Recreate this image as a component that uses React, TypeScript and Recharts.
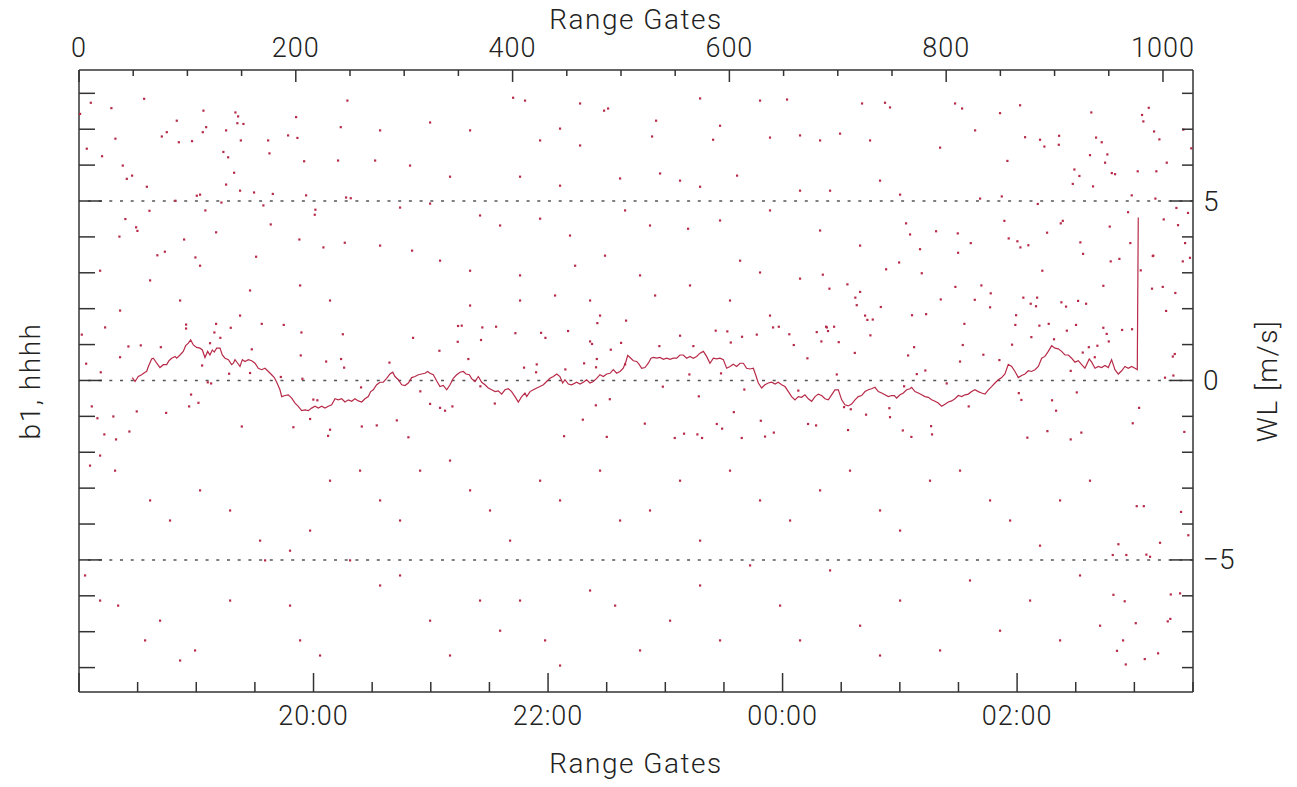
import { ComposedChart, Line, Scatter, XAxis, YAxis, ReferenceLine } from "recharts";

// top axis: range gates, bottom axis: UT hours (24+ = next day)
const gateTicks = Array.from({ length: 21 }, (_, i) => i * 50);
const gateLabels = [0, 200, 400, 600, 800, 1000];
const timeTicks = Array.from({ length: 20 }, (_, i) => 18 + i * 0.5);
const timeLabelHours = [20, 22, 24, 26];
const timeLabelText = ["20:00", "22:00", "00:00", "02:00"];
const wlTicks = Array.from({ length: 17 }, (_, i) => i - 8);
const wlLabels = [-5, 0, 5];
const wlLabelText = ["\u22125", "0", "5"];
const refLevels = [-5, 0, 5];

// [range gate, WL m/s]
const wlTrace: [number, number][] = [
  [49.2, 0.08], [51.7, -0.03], [54.7, 0.11], [57.8, 0.16], [60.9, 0.23], [62.4, 0.25], [64.0, 0.39], [67.0, 0.6],
  [68.6, 0.62], [71.7, 0.48], [74.7, 0.36], [77.8, 0.44], [80.9, 0.44], [83.0, 0.55], [85.5, 0.62], [88.6, 0.67],
  [90.1, 0.62], [93.2, 0.71], [96.2, 0.81], [98.4, 0.97], [100.9, 1.04], [103.0, 1.13], [105.5, 0.99], [108.5, 0.92],
  [111.6, 0.9], [113.8, 0.85], [116.2, 0.64], [118.7, 0.81], [120.8, 0.71], [123.0, 0.85], [124.8, 0.79], [127.0, 0.9],
  [130.1, 0.9], [132.2, 0.71], [134.7, 0.62], [137.8, 0.58], [140.8, 0.44], [142.4, 0.48], [143.9, 0.58], [146.4, 0.48],
  [148.5, 0.39], [150.7, 0.58], [153.1, 0.53], [156.2, 0.58], [159.3, 0.55], [162.4, 0.48], [165.4, 0.34], [168.5, 0.3],
  [171.6, 0.34], [174.7, 0.25], [177.7, 0.16], [180.2, 0.08], [182.4, -0.05], [185.4, -0.26], [187.0, -0.45], [190.0, -0.42],
  [193.1, -0.4], [196.2, -0.49], [199.3, -0.63], [202.3, -0.72], [205.4, -0.84], [208.5, -0.82], [211.6, -0.84], [214.6, -0.77],
  [217.7, -0.72], [220.8, -0.77], [223.9, -0.72], [226.9, -0.77], [230.0, -0.72], [233.1, -0.68], [236.2, -0.51], [239.2, -0.54],
  [242.3, -0.51], [245.4, -0.6], [248.5, -0.54], [251.5, -0.58], [254.6, -0.51], [257.7, -0.57], [260.8, -0.6], [263.8, -0.51],
  [266.9, -0.45], [269.1, -0.31], [271.5, -0.26], [274.6, -0.12], [277.7, -0.05], [280.7, -0.05],
  [283.8, 0.06], [286.9, 0.18], [289.4, 0.23], [291.5, 0.11], [294.6, 0.02], [297.7, -0.12], [300.7, -0.14], [303.8, -0.07],
  [306.9, 0.08], [310.0, 0.11], [313.0, 0.16], [316.1, 0.18], [319.2, 0.2], [321.6, 0.25], [323.8, 0.2], [326.9, 0.16],
  [329.9, -0.01], [333.0, -0.17], [336.1, -0.14], [339.2, -0.26], [342.3, -0.12], [345.3, 0.06], [348.4, 0.16], [351.5, 0.23],
  [354.6, 0.25], [357.0, 0.18], [360.1, 0.16], [362.2, 0.05], [365.3, -0.03], [368.4, 0.11], [371.5, -0.05], [374.5, -0.12],
  [377.6, -0.21], [380.7, -0.26], [383.8, -0.31], [386.8, -0.29], [389.9, -0.38], [393.0, -0.26], [396.1, -0.23], [399.1, -0.31],
  [402.2, -0.45], [405.3, -0.6], [408.4, -0.45], [411.4, -0.35], [413.0, -0.45], [416.1, -0.31], [419.2, -0.26], [422.3, -0.21],
  [425.3, -0.17], [428.4, -0.12], [431.4, -0.03], [434.5, 0.06], [437.6, 0.11], [440.7, 0.18], [443.7, 0.11], [446.2, -0.07],
  [448.3, 0.02], [451.4, -0.1], [454.5, -0.12], [459.1, -0.05], [462.2, -0.1], [465.3, -0.05], [468.3, 0.02], [471.4, -0.07],
  [474.5, -0.03], [477.6, 0.06], [480.6, 0.16], [483.7, 0.11], [486.8, 0.18], [489.9, 0.2], [492.9, 0.3], [496.0, 0.2],
  [499.1, 0.25], [502.1, 0.34], [504.6, 0.53], [506.2, 0.7], [508.3, 0.64], [511.4, 0.55], [514.5, 0.53], [516.9, 0.44],
  [519.1, 0.34], [522.1, 0.36], [525.2, 0.48], [527.7, 0.62], [529.8, 0.64], [532.9, 0.62], [536.0, 0.64], [539.1, 0.59],
  [542.1, 0.62], [545.2, 0.59], [548.3, 0.62], [551.4, 0.62], [554.4, 0.71], [557.5, 0.71], [560.6, 0.62], [563.7, 0.67],
  [566.7, 0.62], [569.8, 0.67], [572.9, 0.76], [576.0, 0.81], [579.0, 0.67], [582.1, 0.48], [585.2, 0.62], [588.3, 0.6],
  [591.3, 0.62], [594.4, 0.58], [597.5, 0.34], [600.6, 0.39], [603.6, 0.45], [606.7, 0.39], [609.8, 0.48], [612.9, 0.48],
  [615.9, 0.34], [619.0, 0.32], [622.1, 0.34], [624.2, 0.16], [626.7, -0.07], [629.8, -0.21], [632.8, -0.12], [635.9, -0.07],
  [639.0, -0.05], [642.1, -0.1], [645.1, -0.05], [648.2, -0.12], [651.3, -0.17], [654.4, -0.31], [657.4, -0.45], [660.5, -0.54],
  [663.6, -0.45], [666.7, -0.47], [669.7, -0.4], [672.8, -0.51], [675.9, -0.58], [679.0, -0.45], [682.0, -0.38], [685.1, -0.42],
  [688.2, -0.51], [691.3, -0.54], [694.3, -0.4], [697.4, -0.26], [700.5, -0.26], [703.6, -0.54], [706.6, -0.68], [709.7, -0.71],
  [712.8, -0.66], [715.9, -0.54], [718.9, -0.45], [722.0, -0.42], [725.1, -0.31], [728.2, -0.26], [731.2, -0.23], [734.3, -0.19],
  [737.4, -0.31], [740.5, -0.35], [743.5, -0.4], [746.6, -0.45], [749.7, -0.42], [752.2, -0.42],
  [754.3, -0.49], [757.4, -0.4], [760.5, -0.35], [763.5, -0.26], [766.6, -0.23], [768.1, -0.19], [771.2, -0.31], [774.3, -0.35],
  [777.4, -0.4], [780.4, -0.45], [783.5, -0.47], [786.6, -0.54], [789.7, -0.58], [792.7, -0.63], [795.8, -0.72], [798.9, -0.66],
  [802.0, -0.6], [805.0, -0.57], [808.1, -0.51], [811.2, -0.42], [814.3, -0.45], [817.3, -0.4], [820.4, -0.38], [823.5, -0.31],
  [826.6, -0.26], [829.6, -0.31], [832.7, -0.35], [835.8, -0.38], [838.9, -0.26], [841.9, -0.17], [845.0, -0.07], [848.1, 0.02],
  [851.2, 0.08], [854.2, 0.18], [857.3, 0.45], [860.4, 0.39], [863.5, 0.25], [866.5, 0.08], [869.6, 0.14], [872.7, 0.18],
  [875.8, 0.27], [878.8, 0.25], [881.9, 0.3], [885.0, 0.39], [888.1, 0.62], [891.1, 0.67], [894.2, 0.81], [897.3, 0.97],
  [900.4, 0.9], [903.4, 0.88], [906.5, 0.81], [909.6, 0.71], [912.7, 0.71], [915.7, 0.62], [918.8, 0.51], [921.9, 0.55],
  [925.0, 0.44], [928.0, 0.34], [932.0, 0.6], [934.2, 0.51], [937.3, 0.34], [940.3, 0.39], [943.4, 0.36], [946.5, 0.42],
  [949.6, 0.36], [952.6, 0.58], [955.7, 0.3], [958.8, 0.18], [961.9, 0.27], [964.9, 0.39], [968.0, 0.34], [971.1, 0.39],
  [974.2, 0.34], [976.3, 0.3], [977.2, 4.54],
];

// scattered single-gate values [range gate, WL m/s]
const wlScatter: [number, number][] = [
  // upper left
  [10.8, 7.74], [0.9, 7.43], [60, 7.85], [29.8, 7.59], [114.7, 7.52], [144.2, 7.47], [146.7, 7.36], [146, 7.17],
  [151.6, 7.15], [90.1, 7.24], [117.2, 7.06], [135.6, 6.97], [114.1, 6.92], [80.9, 6.92], [76.3, 6.8], [33.5, 6.74],
  [92, 6.64], [104.2, 6.67], [149.2, 6.69], [174.4, 6.69], [200.2, 7.34], [192.8, 6.83], [201.4, 6.76], [241.4, 7.06],
  [247.5, 7.8], [7.1, 6.46], [21.2, 6.25], [133.1, 6.37], [137.5, 6.22], [175.6, 6.33], [207.6, 6.11], [238.9, 6.13],
  [40.3, 5.99], [48.9, 5.71], [44, 5.62], [143, 5.79], [62.5, 5.4], [135.6, 5.46], [148.5, 5.29], [161.4, 5.24],
  [178.7, 5.2], [209.4, 5.16], [108.6, 5.15], [111.6, 5.18], [246.3, 5.1], [250.6, 5.08], [88.8, 5.01], [131.3, 4.96],
  [170, 4.88], [64.9, 4.73], [116.5, 4.74], [218, 4.76], [217.4, 4.62], [42.7, 4.5], [52.6, 4.27], [53.8, 4.17],
  [176.8, 4.35], [126.4, 4.13], [37.2, 4.01], [96.9, 3.93], [203.2, 3.93], [225.4, 3.71], [245.1, 3.84], [72.2, 3.49],
  [79.1, 3.59], [107.3, 3.43], [163.3, 3.45], [19.4, 3.06], [65.5, 2.79], [111.6, 3.2], [157.7, 2.51], [203.9, 2.65],
  [231.5, 2.23], [37.8, 1.95], [93.2, 2.23], [148.5, 1.81],
  // upper right
  [849.6, 7.45], [868.1, 7.67], [933.8, 7.47], [986.8, 7.6], [980.6, 7.4], [981.8, 7.22], [1018.7, 6.99], [991.7, 6.94],
  [996.6, 6.72], [872.7, 6.78], [886.5, 6.71], [890.5, 6.52], [904.1, 6.82], [903.8, 6.57], [938.2, 6.77], [943.4, 6.64],
  [856.4, 6.12], [932.6, 6.28], [948.6, 6.3], [946.5, 6.07], [1003.4, 6.07], [1026, 6.47], [918.2, 5.88], [922.8, 5.7],
  [916.7, 5.48], [935.4, 5.41], [952.7, 5.78], [955.7, 5.75], [976.6, 5.83], [993.8, 5.83], [971.1, 5.16], [992.9, 5.07],
  [851.2, 5.13], [884.4, 4.92], [967.7, 4.69], [1012.3, 4.81], [1023, 4.67], [853.6, 4.45], [907.5, 4.45], [905.6, 4.38],
  [1000.6, 4.49], [950.8, 4.29], [1013.8, 4.33], [893, 4.12], [857.6, 3.96], [865.6, 3.88], [868.4, 3.71], [875.7, 3.77],
  [923.7, 3.85], [926.2, 3.53], [969.8, 3.83], [1020.3, 3.83], [990.5, 3.47], [959.7, 3.39], [1024.8, 3.42],
  [762.9, 4.38], [766.6, 4.07], [790.6, 4.16], [810.6, 4.1], [822.6, 3.83], [775.8, 3.66], [810.9, 3.56], [756.5, 3.29],
  [744.5, 3.1], [777.4, 2.99], [686.1, 2.95], [708.8, 2.68], [692.2, 2.56], [720.5, 2.47], [716.1, 2.31], [717.4, 2.1],
  [739.6, 2.05], [794.9, 2.26], [808.4, 2.61], [832.4, 2.65], [841, 2.43], [826.3, 2.25], [840.4, 2.04], [768.4, 1.82],
  [781.4, 1.85], [725.1, 1.81], [727.2, 1.69], [732.2, 1.7], [689.8, 1.48], [696.5, 1.5], [690.9, 1.38], [730, 1.26],
  [684.8, 1.09], [816.7, 1.58], [715.6, 0.77], [770.3, 0.93], [764.8, 0.7], [815.2, 0.99], [834.2, 0.72], [812.7, 0.53],
  [780.7, 0.28], [772.8, 0.18], [699, 0.17], [800.4, -0.08], [761.1, -0.16],
  [951.7, 3.32], [888.6, 3.06], [871.1, 2.31], [877.9, 2.14], [883.8, 2.31], [882.8, 2.07], [906.2, 2.18], [910.5, 2.06],
  [921.6, 2.22], [929, 2.14], [864.4, 1.82], [863.7, 1.55], [885.9, 1.53], [894.5, 1.58], [919.7, 1.55], [944.9, 2.64],
  [944.9, 1.47], [948, 1.3], [949.9, 1.09], [962.2, 1.41], [971.4, 1.43], [911.2, 1.39], [878.5, 1.21], [899.4, 1.15],
  [860.7, 1.0], [931.5, 0.93], [939.4, 0.97], [925.9, 0.78], [937, 0.65], [849, 0.57], [914.8, 0.27], [991, 3.48],
  [999.7, 2.61], [989.8, 2.56], [1011.3, 2.44], [1002.8, 1.94], [1018.2, 3.32], [979.4, 3.07], [1010.8, 0.74], [1009, 0.67],
  [1001.8, 0.08], [1009.5, 0.14],
  // upper middle
  [400.4, 7.88], [411.4, 7.8], [462.2, 7.72], [488, 7.58], [572.9, 7.86], [628.2, 7.8], [653.1, 7.83], [722.3, 7.72],
  [743.5, 7.74], [748.1, 7.61], [808.1, 7.72], [814.6, 7.58], [323.8, 7.19], [360.7, 6.97], [443.7, 7.02], [484.3, 7.52],
  [532.3, 7.24], [591.3, 7.1], [702, 6.88], [277.7, 6.97], [425.3, 6.69], [462.2, 6.55], [528.6, 6.8], [584.9, 6.71],
  [637.4, 6.77], [665.1, 6.83], [683.6, 6.69], [729.7, 6.69], [794.3, 6.49], [826.6, 6.97], [273.1, 6.13], [305.3, 5.99],
  [342.2, 5.68], [406.8, 5.68], [443.7, 5.43], [499.1, 5.63], [536, 5.77], [554.4, 5.57], [572.9, 5.4], [607, 5.71],
  [665.1, 5.29], [692.8, 5.29], [738.9, 5.57], [757.4, 5.18], [831.2, 5.07], [296.1, 4.82], [323.8, 4.93], [369.9, 4.6],
  [388.4, 4.32], [425.3, 4.51], [452.9, 4.04], [503.7, 4.74], [526.7, 4.32], [561.8, 4.23], [591.3, 4.46], [637.4, 4.74],
  [683.6, 4.18], [720.5, 3.76], [277.7, 3.76], [307.2, 3.62], [333, 3.34], [360.7, 3.06], [406.8, 2.93], [457.6, 3.2],
  [485.2, 3.48], [517.5, 2.93], [563.6, 2.65], [609.8, 3.34], [628.2, 3.01], [665.1, 2.84], [531.4, 2.37], [360.7, 2.09],
  [406.8, 2.23], [439.1, 2.37], [471.4, 2.23], [480.6, 1.81], [600.5, 2.23], [637.4, 1.81],
  // around the trace
  [2.5, 1.28], [24, 1.48], [6.5, 0.47], [20, 0.23], [45.5, 0.95], [56.9, 0.98], [75.4, 0.93], [98.7, 1.56],
  [98.7, 1.45], [37.8, 0.65], [11.7, -0.72], [53.2, -0.86], [31.6, -1.0], [16.9, -1.05], [23.3, -1.5], [46.4, -1.42],
  [34.1, -1.64], [80.3, -0.9], [101.5, -0.72], [103.3, -0.39], [110.1, -0.62], [113.5, 0.42], [118.7, -0.05], [121.8, -0.08],
  [120.8, 1.04], [124.8, 1.34], [126.4, 1.58], [130.3, 1.19], [139.9, 1.47], [159.3, 0.87], [138.4, 0.19], [157.7, 0.21],
  [150.1, -1.28], [168.5, 1.58], [188.8, 1.55], [186.1, 0.1], [204.5, 0.7], [205.1, 1.34], [206, 0.05], [216.1, -0.53],
  [219.8, -0.55], [213.1, -1.07], [197.7, -1.3], [231.5, -1.37], [229.7, -1.54], [227.9, 0.53], [241.7, 0.6], [244.5, 0.36],
  [243.3, 1.29], [260.1, -0.19], [260.8, -1.28], [274.6, -1.25], [286.3, 0.5], [293.1, -1.11], [303.8, -1.58], [308.1, 1.19],
  [314.8, -0.3], [323.8, -0.65], [332.4, 0.83], [333, -0.76], [337.6, -0.84], [349.3, 1.08], [349.6, 1.52],
  [353, 1.53], [372, 1.48], [384.7, 1.5], [370.8, 1.13], [402.5, 1.32], [426.2, 1.33], [430.2, 1.19], [451.1, 1.38],
  [478.1, 1.6], [504.6, 1.67], [471.4, 1.09], [473.2, 1.02], [500, 1.05], [490.5, 0.86], [359.1, 0.6], [422.2, 0.45],
  [410.5, 0.36], [421.6, 0.23], [448.6, 0.31], [465.9, 0.48], [477.6, 0.6], [476.9, 0.37], [503.7, 0.45], [535.3, 0.96],
  [554.4, 1.25], [566.7, 0.96], [587.3, 1.39], [598, 1.37], [611.6, 1.22], [625.2, 1.28], [601.2, 1.06], [640.2, 1.48],
  [645.5, 1.5], [655.2, 1.29], [659.3, 0.99], [680.5, 1.35], [689.1, 1.5], [700.8, 1.07], [671.9, 0.62], [563, 0.17],
  [592.2, 0.2], [344.4, -0.72], [383.5, -0.64], [370.2, -0.16], [489.6, -0.52], [476.7, -0.69], [538.5, -0.17], [571.7, -0.44],
  [613.7, -0.25], [663.5, -0.28], [464.7, -1.09], [521.9, -1.2], [588.3, -1.21], [593.2, -1.34], [604, -0.88], [628.9, -1.12],
  [640.9, -1.45], [672.5, -1.21], [679.9, -1.25], [447.4, -1.55], [486.8, -1.57], [549.5, -1.6], [558.1, -1.48], [570.4, -1.5],
  [574.7, -1.6], [611.3, -1.6], [632.8, -1.56],
  [705.7, -0.74], [711.9, -0.8], [747.5, -0.77], [748.1, -1.02], [726, -0.95], [820.7, -0.72], [786, -1.27], [786.9, -1.5],
  [709.4, -1.38], [759.9, -1.39], [767.8, -1.57], [866.9, -0.35], [869.3, -0.54], [897.6, -0.55], [901.3, -0.84], [920.4, -0.33],
  [977.9, -0.76], [972, -1.19], [924.6, -1.45], [914.8, -1.64], [893.3, -1.41], [874.8, -1.59], [1019.6, -1.43],
  // lower half
  [975.7, -3.5], [982.2, -3.5], [1016.6, -3.66], [1023.3, -4.31], [997.2, -4.52], [958.8, -4.56], [953.6, -4.86], [966.1, -4.86],
  [984.6, -4.85], [988, -4.91], [954.2, -5.97], [964.6, -6.15], [1007.1, -5.96], [1015.7, -5.93], [974.8, -6.76], [1006.7, -6.64],
  [1004.3, -6.71], [963.1, -7.24], [957.5, -7.53], [995.4, -7.6], [983.1, -7.76], [965.6, -7.91],
  [10.1, -2.37], [19.4, -2.09], [33.2, -2.51], [65.5, -3.34], [83.9, -3.9], [111.6, -3.06], [139.3, -3.62], [167, -4.46],
  [194.6, -4.74], [213.1, -4.18], [231.5, -2.79], [259.2, -2.51], [277.7, -3.34], [296.1, -3.9], [314.6, -2.51], [342.2, -2.23],
  [360.7, -3.06], [379.1, -3.62], [397.6, -4.46], [425.3, -2.79], [443.7, -3.34], [480.6, -2.51], [499.1, -3.9], [526.7, -3.62],
  [554.4, -2.79], [572.9, -4.46], [600.5, -2.51], [628.2, -3.34], [655.9, -3.9], [683.6, -3.06], [711.2, -2.51], [738.9, -3.62],
  [757.4, -4.18], [785, -2.79], [812.7, -2.51], [840.4, -3.34], [858.9, -3.9], [886.5, -4.6], [905, -3.34], [932.6, -2.79],
  [5.5, -5.43], [19.4, -6.13], [36, -6.27], [60.9, -7.24], [74.7, -6.69], [93.2, -7.8], [107, -7.52], [139.3, -6.13],
  [171.6, -5.01], [194.6, -6.27], [203.9, -7.24], [222.3, -7.66], [250, -5.01], [277.7, -5.71], [296.1, -5.43], [323.8, -6.69],
  [342.2, -7.66], [369.9, -6.13], [388.4, -6.97], [406.8, -6.13], [429.9, -7.24], [443.7, -7.94], [471.4, -5.85], [494.5, -6.27],
  [517.5, -7.52], [545.2, -6.69], [572.9, -5.71], [591.3, -7.24], [619, -5.15], [646.7, -6.27], [665.1, -7.24], [692.8, -5.29],
  [720.5, -6.83], [738.9, -7.66], [757.4, -6.13], [794.3, -7.52], [821.9, -5.57], [849.6, -6.97], [877.3, -6.13], [905, -7.24],
  [923.4, -5.43], [941.9, -6.83],
];

const traceData = wlTrace.map(([gate, wl]) => ({ gate, wl }));
const scatterData = wlScatter.map(([gate, wl]) => ({ gate, wl }));

const INK = "#333";
const RED = "#b72a48";
const FONT = "Roboto, 'DejaVu Sans', sans-serif";
const textStyle = { fontFamily: FONT, fontWeight: 300, fill: "#222" } as const;

function GateTick(props: any) {
  const { x, y, payload } = props;
  const major = gateLabels.includes(payload.value);
  return (
    <g>
      <line x1={x} y1={y} x2={x} y2={y + (major ? 12 : 6)} stroke={INK} strokeWidth={1.5} />
      {major && (
        <text x={x} y={y - 13} textAnchor="middle" fontSize={27} letterSpacing={1} {...textStyle}>
          {payload.value}
        </text>
      )}
    </g>
  );
}

function TimeTick(props: any) {
  const { x, y, payload } = props;
  const idx = timeLabelHours.indexOf(payload.value);
  const major = payload.value % 2 === 0;
  return (
    <g>
      <line x1={x} y1={y} x2={x} y2={y - (major ? 19 : 10)} stroke={INK} strokeWidth={1.5} />
      {idx >= 0 && (
        <text x={x} y={y + 33} textAnchor="middle" fontSize={27} letterSpacing={1} {...textStyle}>
          {timeLabelText[idx]}
        </text>
      )}
    </g>
  );
}

function LeftTick(props: any) {
  const { x, y, payload } = props;
  const major = wlLabels.includes(payload.value);
  return <line x1={x} y1={y} x2={x + (major ? 23 : 16)} y2={y} stroke={INK} strokeWidth={1.5} />;
}

function RightTick(props: any) {
  const { x, y, payload } = props;
  const idx = wlLabels.indexOf(payload.value);
  return (
    <g>
      <line x1={x} y1={y} x2={x - (idx >= 0 ? 23 : 11)} y2={y} stroke={INK} strokeWidth={1.5} />
      {idx >= 0 && (
        <text x={x + 10} y={y} dominantBaseline="central" fontSize={28} {...textStyle}>
          {wlLabelText[idx]}
        </text>
      )}
    </g>
  );
}

const titleStyle = { ...textStyle, fontSize: 28, letterSpacing: 1.5 };

export default function App() {
  return (
    <div style={{ position: "absolute", left: 0, top: 0, width: 1297, height: 787, background: "#fff" }}>
      <ComposedChart width={1297} height={787} margin={{ top: 0, right: 0, bottom: 0, left: 0 }}>
        <XAxis
          xAxisId="gate"
          dataKey="gate"
          type="number"
          orientation="top"
          domain={[0, 1027.7]}
          allowDataOverflow
          ticks={gateTicks}
          interval={0}
          height={70}
          tickSize={0}
          tickMargin={0}
          tickLine={false}
          axisLine={{ stroke: INK, strokeWidth: 1.5 }}
          tick={<GateTick />}
          label={{
            content: (p: any) => (
              <text x={p.viewBox.x + p.viewBox.width / 2} y={p.viewBox.y + 29} textAnchor="middle" {...titleStyle}>
                Range Gates
              </text>
            ),
          }}
        />
        <XAxis
          xAxisId="time"
          dataKey="hour"
          type="number"
          orientation="bottom"
          domain={[18, 27.5]}
          allowDataOverflow
          ticks={timeTicks}
          interval={0}
          height={95}
          tickSize={0}
          tickMargin={0}
          tickLine={false}
          axisLine={{ stroke: INK, strokeWidth: 1.5 }}
          tick={<TimeTick />}
          label={{
            content: (p: any) => (
              <text x={p.viewBox.x + p.viewBox.width / 2} y={p.viewBox.y + 81} textAnchor="middle" {...titleStyle}>
                Range Gates
              </text>
            ),
          }}
        />
        <YAxis
          yAxisId="b1"
          type="number"
          orientation="left"
          domain={[-8.68, 8.65]}
          allowDataOverflow
          ticks={wlTicks}
          interval={0}
          width={79}
          tickSize={0}
          tickMargin={0}
          tickLine={false}
          axisLine={{ stroke: INK, strokeWidth: 1.5 }}
          tick={<LeftTick />}
          label={{
            content: (p: any) => {
              const cx = 30;
              const cy = p.viewBox.y + p.viewBox.height / 2;
              return (
                <text x={cx} y={cy} transform={`rotate(-90 ${cx} ${cy})`} textAnchor="middle" dominantBaseline="central" {...titleStyle}>
                  b1, hhhh
                </text>
              );
            },
          }}
        />
        <YAxis
          yAxisId="wl"
          dataKey="wl"
          type="number"
          orientation="right"
          domain={[-8.68, 8.65]}
          allowDataOverflow
          ticks={wlTicks}
          interval={0}
          width={104}
          tickSize={0}
          tickMargin={0}
          tickLine={false}
          axisLine={{ stroke: INK, strokeWidth: 1.5 }}
          tick={<RightTick />}
          label={{
            content: (p: any) => {
              const cx = p.viewBox.x + 74;
              const cy = p.viewBox.y + p.viewBox.height / 2;
              return (
                <text x={cx} y={cy} transform={`rotate(-90 ${cx} ${cy})`} textAnchor="middle" dominantBaseline="central" {...titleStyle}>
                  WL [m/s]
                </text>
              );
            },
          }}
        />
        {refLevels.map((v) => (
          <ReferenceLine
            key={v}
            xAxisId="gate"
            yAxisId="wl"
            y={v}
            stroke="#555"
            strokeWidth={1.5}
            strokeDasharray="3 7.7"
          />
        ))}
        <Scatter
          xAxisId="gate"
          yAxisId="wl"
          data={scatterData}
          dataKey="wl"
          isAnimationActive={false}
          shape={(p: any) => <rect x={p.cx - 1} y={p.cy - 1} width={2.2} height={2.2} fill={RED} />}
        />
        <Line
          xAxisId="gate"
          yAxisId="wl"
          data={traceData}
          dataKey="wl"
          type="linear"
          stroke={RED}
          strokeWidth={1.2}
          dot={false}
          activeDot={false}
          isAnimationActive={false}
        />
      </ComposedChart>
    </div>
  );
}
